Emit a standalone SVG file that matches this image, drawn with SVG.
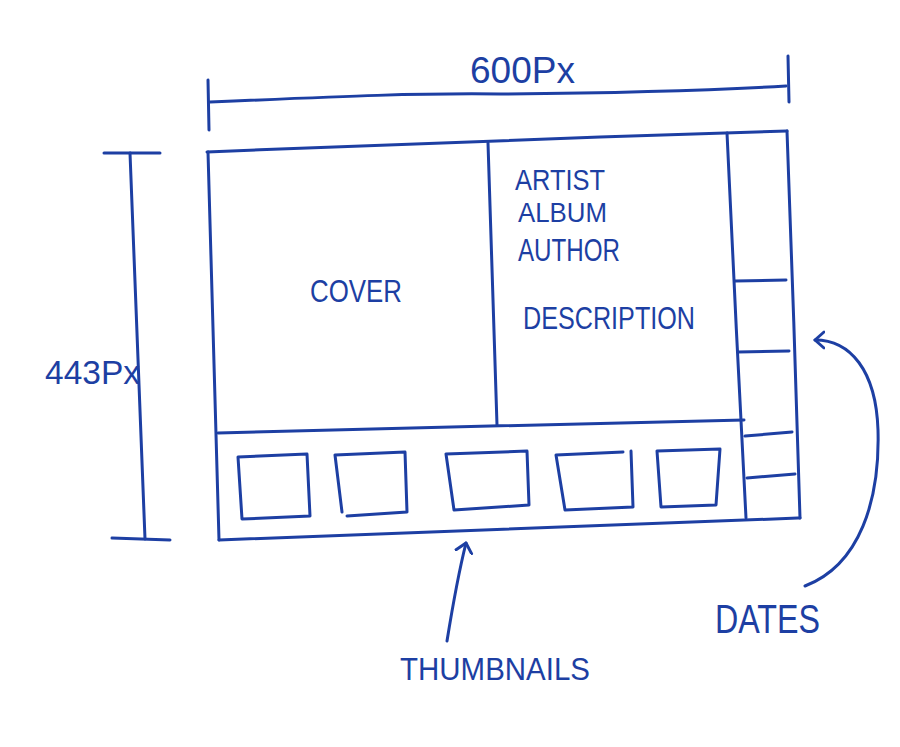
<svg xmlns="http://www.w3.org/2000/svg" width="900" height="747" viewBox="0 0 900 747">
<style>
.ink{fill:none;stroke:#1d3fa3;stroke-width:3;stroke-linecap:round;stroke-linejoin:round}
.lbl{font-family:"Liberation Sans","DejaVu Sans",sans-serif;fill:#1d3fa3;font-weight:normal}
</style>
<defs>
<marker id="open" markerWidth="20" markerHeight="20" refX="10" refY="10" orient="auto" markerUnits="userSpaceOnUse">
<path d="M1,2 L10,10 L1,18" class="ink"/>
</marker>
</defs>
<rect width="900" height="747" fill="#ffffff"/>
<g id="width-dimension">
<path class="ink" d="M208,80 L209,130"/>
<path class="ink" d="M210,102 C350,96 420,93 500,94 C620,93 700,91 786,86"/>
<path class="ink" d="M788,56 L789,102"/>
<text class="lbl" x="470" y="83" font-size="36" textLength="105" lengthAdjust="spacingAndGlyphs">600Px</text>
</g>
<g id="height-dimension">
<path class="ink" d="M104,153 L160,153"/>
<path class="ink" d="M130,153 C134,250 138,380 145,539"/>
<path class="ink" d="M112,538 L170,540"/>
<text class="lbl" x="45" y="384" font-size="34" textLength="95" lengthAdjust="spacingAndGlyphs">443Px</text>
</g>
<g id="frame">
<path class="ink" d="M207,152 C350,146 500,140 600,137 C680,134 740,132 787,131"/>
<path class="ink" d="M208,152 C212,260 215,380 219,540"/>
<path class="ink" d="M219,540 C400,534 600,525 800,518"/>
<path class="ink" d="M787,131 C792,250 796,400 800,518"/>
</g>
<g id="cover">
<path class="ink" d="M488,143 C491,250 494,340 497,425"/>
<text class="lbl" x="310" y="302" font-size="31" textLength="92" lengthAdjust="spacingAndGlyphs">COVER</text>
</g>
<g id="description">
<text class="lbl" x="515" y="190" font-size="30" textLength="90" lengthAdjust="spacingAndGlyphs">ARTIST</text>
<text class="lbl" x="518" y="222" font-size="28" textLength="89" lengthAdjust="spacingAndGlyphs">ALBUM</text>
<text class="lbl" x="518" y="261" font-size="31" textLength="102" lengthAdjust="spacingAndGlyphs">AUTHOR</text>
<text class="lbl" x="523" y="329" font-size="32" textLength="172" lengthAdjust="spacingAndGlyphs">DESCRIPTION</text>
</g>
<g id="dates-column">
<path class="ink" d="M727,133 C732,250 740,400 746,518"/>
<path class="ink" d="M735,281 L786,280"/>
<path class="ink" d="M738,352 L789,351"/>
<path class="ink" d="M745,436 L792,432"/>
<path class="ink" d="M747,478 L795,474"/>
</g>
<g id="thumbnails">
<path class="ink" d="M218,433 C400,428 600,423 744,420"/>
<path class="ink" d="M238,457 L307,454 L310,516 L242,519 Z"/>
<path class="ink" d="M342,512 L335,455 L405,452 L407,512 L347,516"/>
<path class="ink" d="M446,454 L527,451 L529,505 L454,510 Z"/>
<path class="ink" d="M623,452 L556,455 L565,510 L633,507 L631,451"/>
<path class="ink" d="M657,451 L720,449 L716,505 L661,507 Z"/>
</g>
<g id="connectors">
<path class="ink" d="M447,641 C452,610 458,575 466,543" marker-end="url(#open)"/>
<path class="ink" d="M805,586 C860,565 880,500 878,430 C876,370 850,340 815,340" marker-end="url(#open)"/>
</g>
<g id="labels">
<text class="lbl" x="400" y="680" font-size="32" textLength="190" lengthAdjust="spacingAndGlyphs">THUMBNAILS</text>
<text class="lbl" x="715" y="633" font-size="40" textLength="105" lengthAdjust="spacingAndGlyphs">DATES</text>
</g>
</svg>
